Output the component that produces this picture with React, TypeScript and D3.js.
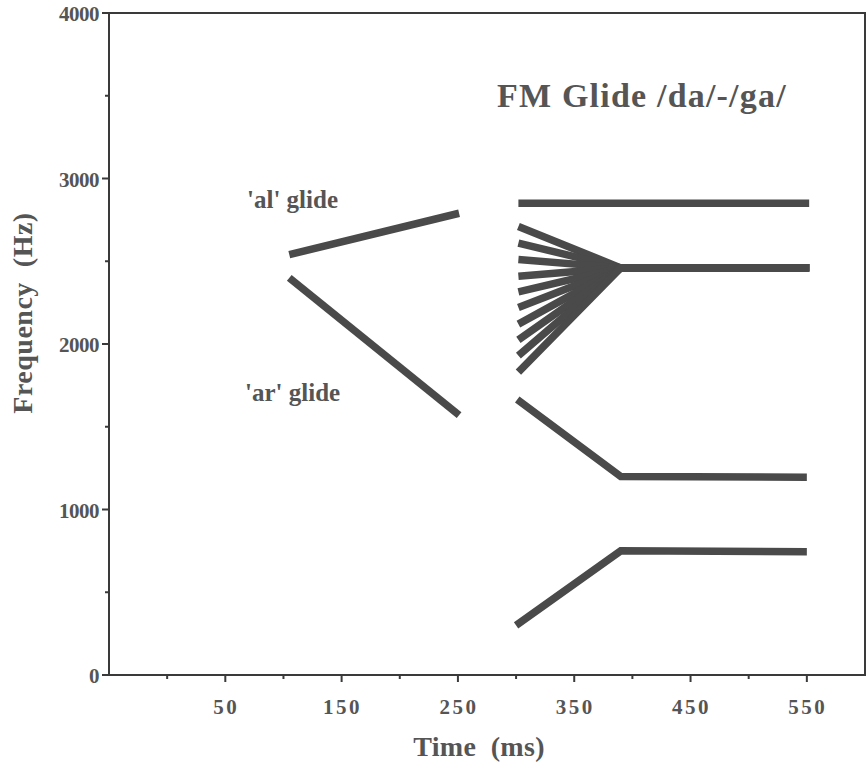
import React from "react";
import * as d3 from "d3";

// ---- data ----
const yTicksMajor = [0, 1000, 2000, 3000, 4000];
const yTicksMinor = [500, 1500, 2500, 3500];
const xTicksMajor = [50, 150, 250, 350, 450, 550];
const xTicksMinor = [0, 100, 200, 300, 400, 500];

const alGlideTime = [105, 251];
const alGlideFreq = [2540, 2790];
const arGlideTime = [105, 251];
const arGlideFreq = [2400, 1570];

const f4Time = [302, 552];
const f4Freq = [2850, 2850];

const f3Time = [302, 390, 552];
const f3FanStart = [2710, 2610, 2510, 2410, 2315, 2220, 2120, 2025, 1930, 1830];
const f3Steady = 2460;

const f2Time = [301, 390, 550];
const f2Freq = [1665, 1200, 1195];
const f1Time = [300, 390, 550];
const f1Freq = [300, 750, 745];

const WIDTH = 868;
const HEIGHT = 766;
const FONT = "'Liberation Serif', 'Times New Roman', serif";
const INK = "#4a4a4a";
const TXT = "#555";

export default function App() {
  const x = d3.scaleLinear().domain([-50, 600]).range([109, 865]);
  const y = d3.scaleLinear().domain([0, 4000]).range([675, 13]);
  const line = d3
    .line<[number, number]>()
    .x((d) => x(d[0]))
    .y((d) => y(d[1]));

  const zip = (t: number[], f: number[]) => t.map((v, i) => [v, f[i]] as [number, number]);

  const segments: [number, number][][] = [
    zip(alGlideTime, alGlideFreq),
    zip(arGlideTime, arGlideFreq),
    zip(f4Time, f4Freq),
    ...f3FanStart.map((s) => zip(f3Time, [s, f3Steady, f3Steady])),
    zip(f2Time, f2Freq),
    zip(f1Time, f1Freq),
  ];

  return (
    <svg
      width={WIDTH}
      height={HEIGHT}
      style={{ position: "absolute", left: 0, top: 0, background: "#fff" }}
      fontFamily={FONT}
    >
      {/* frame */}
      <rect
        x={x(-50)}
        y={y(4000)}
        width={x(600) - x(-50)}
        height={y(0) - y(4000)}
        fill="none"
        stroke="#3a3a3a"
        strokeWidth={2}
      />
      {/* y ticks */}
      {yTicksMajor.map((v) => (
        <g key={"ym" + v}>
          <line x1={x(-50) - 7} x2={x(-50)} y1={y(v)} y2={y(v)} stroke="#3a3a3a" strokeWidth={2} />
          <text
            x={99}
            y={y(v) + 8}
            textAnchor="end"
            fontSize={21}
            fontWeight="bold"
            fill={TXT}
            letterSpacing={-0.5}
          >
            {v}
          </text>
        </g>
      ))}
      {yTicksMinor.map((v) => (
        <line key={"yn" + v} x1={x(-50) - 4} x2={x(-50)} y1={y(v)} y2={y(v)} stroke="#3a3a3a" strokeWidth={2} />
      ))}
      {/* x ticks */}
      {xTicksMajor.map((v) => (
        <g key={"xm" + v}>
          <line x1={x(v)} x2={x(v)} y1={y(0)} y2={y(0) + 7} stroke="#3a3a3a" strokeWidth={2} />
          <text
            x={x(v) + 1}
            y={714}
            textAnchor="middle"
            fontSize={21}
            fontWeight="bold"
            fill={TXT}
            letterSpacing={2.5}
          >
            {v}
          </text>
        </g>
      ))}
      {xTicksMinor.map((v) => (
        <line key={"xn" + v} x1={x(v)} x2={x(v)} y1={y(0)} y2={y(0) + 4} stroke="#3a3a3a" strokeWidth={2} />
      ))}
      {/* axis titles */}
      <text
        x={479}
        y={756}
        textAnchor="middle"
        fontSize={28}
        fontWeight="bold"
        fill={TXT}
        letterSpacing={0.3}
        style={{ whiteSpace: "pre" }}
      >
        {"Time  (ms)"}
      </text>
      <text
        transform={`translate(32,313) rotate(-90)`}
        textAnchor="middle"
        fontSize={28}
        fontWeight="bold"
        fill={TXT}
        letterSpacing={0.5}
        style={{ whiteSpace: "pre" }}
      >
        {"Frequency  (Hz)"}
      </text>
      {/* glide lines */}
      {segments.map((seg, i) => (
        <path
          key={i}
          d={line(seg) || ""}
          fill="none"
          stroke={INK}
          strokeWidth={7.5}
          strokeLinecap="butt"
          strokeLinejoin="miter"
        />
      ))}
      {/* annotations */}
      <text x={497} y={107} fontSize={34} fontWeight="bold" fill={TXT} letterSpacing={1.2}>
        FM Glide /da/-/ga/
      </text>
      <text x={247} y={208} fontSize={25} fontWeight="bold" fill={TXT}>
        'al' glide
      </text>
      <text x={245} y={401} fontSize={25} fontWeight="bold" fill={TXT}>
        'ar' glide
      </text>
    </svg>
  );
}
